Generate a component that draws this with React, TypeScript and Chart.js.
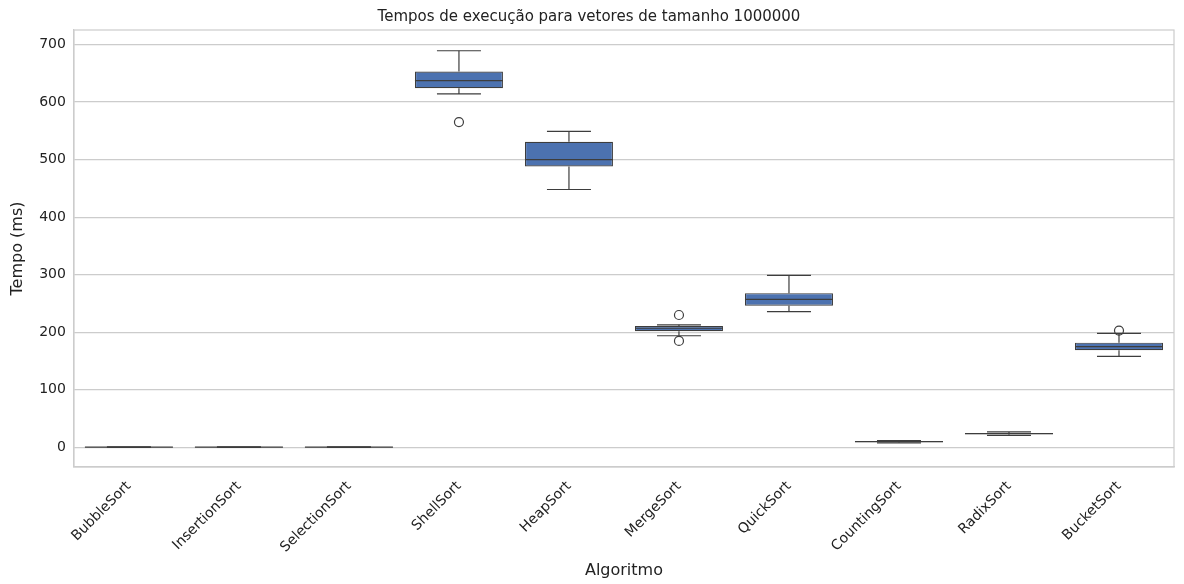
import React, { useEffect, useRef } from "react";
import { Chart, registerables } from "chart.js";

Chart.register(...registerables);

const algorithms = [
  "BubbleSort", "InsertionSort", "SelectionSort", "ShellSort", "HeapSort",
  "MergeSort", "QuickSort", "CountingSort", "RadixSort", "BucketSort",
];
const whiskerLow = [0.2, 0.2, 0.2, 614, 448, 194, 236, 8, 21, 158];
const q1 = [0.4, 0.4, 0.4, 624, 488, 202, 246, 9, 23, 169];
const median = [0.5, 0.5, 0.5, 637, 500, 207, 257, 10, 24, 175];
const q3 = [0.6, 0.6, 0.6, 653, 531, 211, 268, 11, 25, 182];
const whiskerHigh = [0.8, 0.8, 0.8, 689, 549, 213, 299, 12, 27, 198];
const outliers: number[][] = [[], [], [], [565], [], [230, 185], [], [], [], [203]];
const yTicks = [0, 100, 200, 300, 400, 500, 600, 700];

const boxPlugin = {
  id: "boxParts",
  afterDatasetsDraw(chart: any) {
    const ctx = chart.ctx;
    const x = chart.scales.x;
    const y = chart.scales.y;
    const meta = chart.getDatasetMeta(0);
    ctx.save();
    ctx.strokeStyle = "#3d3d3d";
    ctx.lineWidth = 1.2;
    algorithms.forEach((_, i) => {
      const bar = meta.data[i];
      const cx = x.getPixelForValue(i);
      const half = bar.width / 2;
      const cap = half / 2;
      const line = (x1: number, y1: number, x2: number, y2: number) => {
        ctx.beginPath();
        ctx.moveTo(x1, y1);
        ctx.lineTo(x2, y2);
        ctx.stroke();
      };
      line(cx, y.getPixelForValue(q3[i]), cx, y.getPixelForValue(whiskerHigh[i]));
      line(cx, y.getPixelForValue(q1[i]), cx, y.getPixelForValue(whiskerLow[i]));
      line(cx - cap, y.getPixelForValue(whiskerHigh[i]), cx + cap, y.getPixelForValue(whiskerHigh[i]));
      line(cx - cap, y.getPixelForValue(whiskerLow[i]), cx + cap, y.getPixelForValue(whiskerLow[i]));
      line(cx - half, y.getPixelForValue(median[i]), cx + half, y.getPixelForValue(median[i]));
      outliers[i].forEach((v) => {
        ctx.beginPath();
        ctx.arc(cx, y.getPixelForValue(v), 4.5, 0, Math.PI * 2);
        ctx.stroke();
      });
    });
    ctx.restore();
  },
};

const App = () => {
  const chartRef = useRef<HTMLCanvasElement>(null);

  useEffect(() => {
    document.body.style.margin = "0";
    const ctx = chartRef.current?.getContext("2d");
    if (!ctx) return;
    const font = "'DejaVu Sans', sans-serif";
    const chart = new Chart(ctx, {
      type: "bar",
      data: {
        labels: algorithms,
        datasets: [
          {
            data: algorithms.map((_, i) => [q1[i], q3[i]]) as any,
            backgroundColor: "#4c72b0",
            borderColor: "#3d3d3d",
            borderWidth: 1.2,
            borderSkipped: false,
            barPercentage: 0.8,
            categoryPercentage: 1,
          },
        ],
      },
      options: {
        responsive: false,
        animation: false,
        layout: { padding: { left: 4, right: 10, top: 0, bottom: 0 } },
        plugins: {
          legend: { display: false },
          tooltip: { enabled: false },
          title: {
            display: true,
            text: "Tempos de execução para vetores de tamanho 1000000",
            color: "#222",
            font: { family: font, size: 15, weight: "normal" },
            padding: { top: 8, bottom: 4 },
          },
        },
        scales: {
          x: {
            grid: { display: false },
            border: { color: "#cccccc", width: 1.2 },
            ticks: {
              color: "#222",
              font: { family: font, size: 14 },
              minRotation: 45,
              maxRotation: 45,
            },
            title: {
              display: true,
              text: "Algoritmo",
              color: "#222",
              font: { family: font, size: 16 },
              padding: { top: 2 },
            },
          },
          y: {
            min: -34,
            max: 725,
            afterBuildTicks: (axis: any) => {
              axis.ticks = yTicks.map((v) => ({ value: v }));
            },
            grid: { color: "#cccccc", lineWidth: 1.2, drawTicks: false },
            border: { color: "#cccccc", width: 1.2 },
            ticks: { color: "#222", font: { family: font, size: 14 }, padding: 8 },
            title: {
              display: true,
              text: "Tempo (ms)",
              color: "#222",
              font: { family: font, size: 16 },
            },
          },
        },
      },
      plugins: [
        boxPlugin,
        {
          id: "frame",
          afterDraw(c: any) {
            const a = c.chartArea;
            c.ctx.save();
            c.ctx.strokeStyle = "#cccccc";
            c.ctx.lineWidth = 1.2;
            c.ctx.strokeRect(a.left, a.top, a.right - a.left, a.bottom - a.top);
            c.ctx.restore();
          },
        },
      ],
    });
    return () => chart.destroy();
  }, []);

  return <canvas ref={chartRef} width={1184} height={584}></canvas>;
};

export default App;
